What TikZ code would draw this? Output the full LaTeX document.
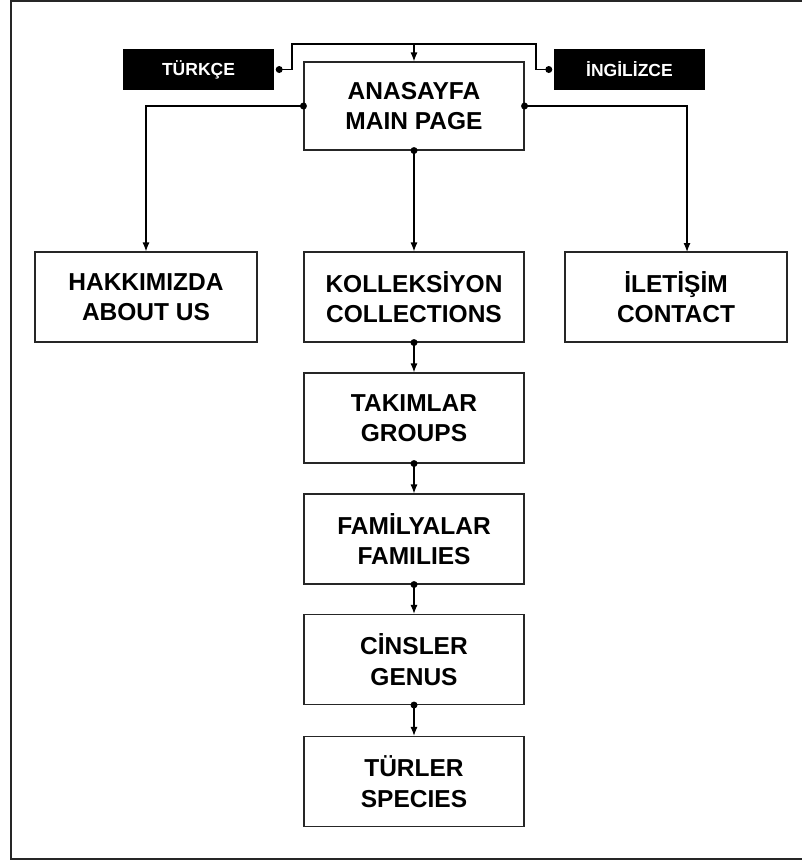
\documentclass[tikz,border=0pt]{standalone}
\usepackage{fontspec}
\setmainfont{Liberation Sans}
\usetikzlibrary{arrows.meta,calc}
\begin{document}
\begin{tikzpicture}[x=1pt,y=-1pt,
  page/.style={draw=black!85, line width=1.1pt, fill=white, align=center,
    font=\bfseries\fontsize{24.5}{30.5}\selectfont, inner sep=0pt,
    minimum width=220pt, minimum height=90pt},
  lang/.style={fill=black, text=white, inner sep=0pt,
    font=\bfseries\fontsize{17.5}{19}\selectfont,
    minimum width=151pt, minimum height=41pt},
  conn/.style={line width=1.2pt, -{Latex[length=9pt,width=7pt]}},
  link/.style={line width=1.2pt},
  dot/.style={fill=black}]
\useasboundingbox (0,0) rectangle (802,865);
% outer frame (open on the right)
\draw[line width=1.6pt, black!85] (820,1) -- (11,1) -- (11,859) -- (820,859);

% main page and language switches
\node[page, minimum height=88pt] (main) at (414,106) {ANASAYFA\\MAIN PAGE};
\node[lang] (tr) at (198.5,69.5) {TÜRKÇE};
\node[lang] (en) at (629.5,69.5) {İNGİLİZCE};

% first level
\node[page, minimum width=222pt] (about) at (146,297) {HAKKIMIZDA\\ABOUT US};
\node[page] (coll) at (414,297) {KOLLEKSİYON\\COLLECTIONS};
\node[page, minimum width=222pt] (contact) at (676,297) {İLETİŞİM\\CONTACT};

% taxonomy chain
\node[page] (groups) at (414,418) {TAKIMLAR\\GROUPS};
\node[page] (families) at (414,539) {FAMİLYALAR\\FAMILIES};
\node[page] (genus) at (414,659.5) {CİNSLER\\GENUS};
\node[page] (species) at (414,781.5) {TÜRLER\\SPECIES};

% language loop over the main page
\coordinate (tdot) at ($(tr.east)+(5,0)$);
\coordinate (edot) at ($(en.west)+(-5,0)$);
\coordinate (lup) at (292,44);
\coordinate (rup) at (536,44);
\draw[link] (tdot) -| (lup) -- (rup) |- (edot);
\fill[dot] (tdot) circle[radius=3.5pt];
\fill[dot] (edot) circle[radius=3.5pt];
\draw[conn] (main.north |- lup) -- (main.north);

% main page to first level
\coordinate (cin) at (687,252);
\draw[conn] (main.west) -| (about.north);
\fill[dot] (main.west) circle[radius=3.5pt];
\draw[conn] (main.east) -| (cin);
\fill[dot] (main.east) circle[radius=3.5pt];
\draw[conn] (main.south) -- (coll.north);
\fill[dot] (main.south) circle[radius=3.5pt];

% chain arrows
\foreach \a/\b in {coll/groups, groups/families, families/genus, genus/species}{
  \draw[conn] (\a.south) -- (\b.north);
  \fill[dot] (\a.south) circle[radius=3.5pt];
}
\end{tikzpicture}
\end{document}
